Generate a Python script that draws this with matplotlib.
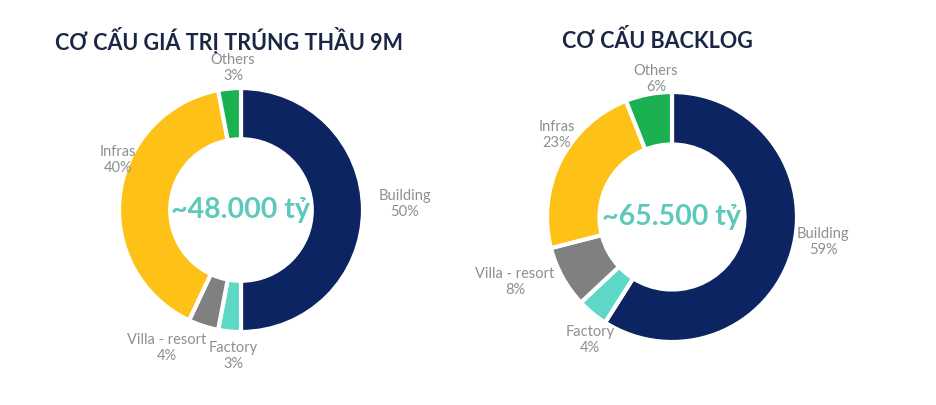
import matplotlib.pyplot as plt

segments = ["Building", "Factory", "Villa - resort", "Infras", "Others"]
award_9m = [50, 3, 4, 40, 3]
backlog = [59, 4, 8, 23, 6]
titles = ["CƠ CẤU GIÁ TRỊ TRÚNG THẦU 9M", "CƠ CẤU BACKLOG"]
totals = ["~48.000 tỷ", "~65.500 tỷ"]

colors = ["#0c2461", "#5dd8c6", "#808080", "#fdc118", "#1bb150"]
W, H = 937, 405

# layout in pixel coords (x, y from top)
centers = [(241, 210), (672, 217)]
radii = [122, 125]
title_pos = [(229, 40), (657, 40)]
label_pos = [
    [(405, 204), (233, 356), (167, 348), (118, 160), (233, 68)],
    [(823, 242), (590, 340), (515, 282), (557, 135), (656, 79)],
]

plt.rcParams['font.family'] = ['Lato', 'DejaVu Sans']

fig = plt.figure(figsize=(W / 100, H / 100), dpi=100)
ax = fig.add_axes([0, 0, 1, 1])

for i, vals in enumerate([award_9m, backlog]):
    cx, cy = centers[i]
    ax.pie(vals, colors=colors, startangle=90, counterclock=False,
           center=(cx, H - cy), radius=radii[i], frame=True,
           wedgeprops=dict(width=radii[i] * 0.42, edgecolor="white", linewidth=3))
    ax.text(cx, H - cy, totals[i], ha="center", va="center", fontsize=20.5,
            fontweight="bold", color="#5ec8ba")
    tx, ty = title_pos[i]
    ax.text(tx, H - ty, titles[i], ha="center", va="center", fontsize=15.5,
            fontweight="bold", color="#1a2744")
    for name, v, (lx, ly) in zip(segments, vals, label_pos[i]):
        ax.text(lx, H - ly, f"{name}\n{v}%", ha="center", va="center",
                fontsize=10.5, color="#8f8f8f", linespacing=1.25)

ax.set_xlim(0, W)
ax.set_ylim(0, H)
ax.set_aspect("equal")
ax.axis("off")
fig.savefig("out.png", dpi=100, facecolor="white")
